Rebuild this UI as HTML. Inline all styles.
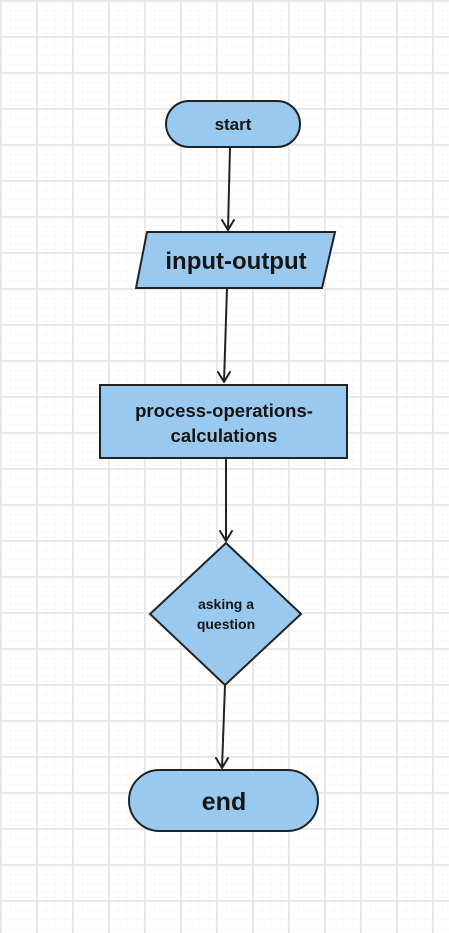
<!DOCTYPE html>
<html><head><style>
html,body{margin:0;padding:0;background:#fff;}
svg{display:block;}
text{font-family:"Liberation Sans",sans-serif;font-weight:bold;fill:#151515;text-anchor:middle;}
</style></head><body>
<svg width="449" height="933" viewBox="0 0 449 933" xmlns="http://www.w3.org/2000/svg">
<defs>
<pattern id="minor" width="9" height="9" patternUnits="userSpaceOnUse" x="1" y="1">
<path d="M0 0H9M0 0V9" stroke="#f6f6f6" stroke-width="1" fill="none"/>
</pattern>
<pattern id="major" width="36" height="36" patternUnits="userSpaceOnUse" x="0" y="0">
<path d="M0 1H36M1 0V36" stroke="#e8e8e8" stroke-width="2" fill="none"/>
</pattern>
</defs>
<rect width="449" height="933" fill="#fff"/>
<rect width="449" height="933" fill="url(#minor)"/>
<rect width="449" height="933" fill="url(#major)"/>
<g stroke="#222" stroke-width="2" fill="none" stroke-linecap="round" stroke-linejoin="round">
<path d="M230 147L228 230M222 220L228 230L234 220"/>
<path d="M227 288L224 382M218 372L224 382L230 372"/>
<path d="M226 458L226 541M220 531L226 541L232 531"/>
<path d="M225 685L222 768M216 758L222 768L228 758"/>
</g>
<g fill="#99c9ef" stroke="#222" stroke-width="2">
<rect x="166" y="101" width="134" height="46" rx="23"/>
<polygon points="147,232 335,232 322,288 136,288"/>
<rect x="100" y="385" width="247" height="73"/>
<polygon points="226,543 301,614 225,685 150,614"/>
<rect x="129" y="770" width="189" height="61" rx="30.5"/>
</g>
<text x="233" y="130" font-size="17">start</text>
<text x="236" y="269" font-size="24">input-output</text>
<text x="224" y="417" font-size="18.5">process-operations-</text>
<text x="224" y="442" font-size="18.5">calculations</text>
<text x="226" y="609" font-size="14">asking a</text>
<text x="226" y="629" font-size="14">question</text>
<text x="224" y="810" font-size="25">end</text>
</svg>
</body></html>
